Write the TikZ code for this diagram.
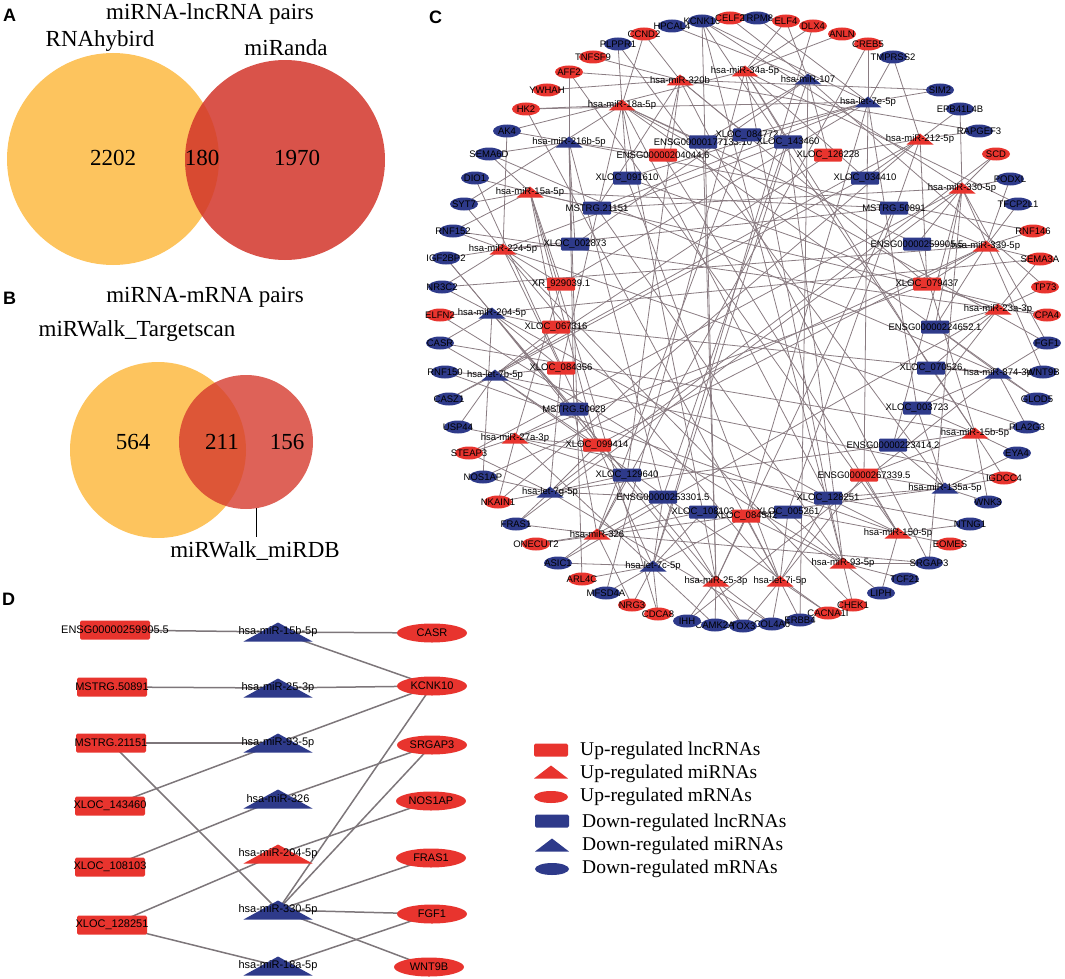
\documentclass[tikz,border=0pt]{standalone}
\usepackage{fontspec}
\setmainfont{Liberation Serif}
\setsansfont{Liberation Sans}
\usetikzlibrary{shapes.geometric}
\pgfdeclarelayer{bg}\pgfsetlayers{bg,main}
\definecolor{upred}{RGB}{232,52,46}
\definecolor{dnblue}{RGB}{46,58,138}
\definecolor{vyel}{RGB}{253,196,94}
\definecolor{vredA}{RGB}{210,53,42}
\definecolor{vredB}{RGB}{214,59,46}
\definecolor{cedgecol}{RGB}{138,124,130}
\definecolor{dedgecol}{RGB}{125,118,122}
\tikzset{
  lblc/.style={font=\fontsize{9.5}{10}\selectfont\sffamily, text=black, inner sep=0pt},
  lbld/.style={font=\fontsize{11}{12}\selectfont\sffamily, text=black, inner sep=0pt},
  crect/.style={fill=#1, minimum width=28pt, minimum height=13pt, inner sep=0pt, rounded corners=1pt},
  cell/.style={ellipse, fill=#1, minimum width=28pt, minimum height=13pt, inner sep=0pt},
  ctri/.style={minimum width=27pt, minimum height=11pt, inner sep=0pt,
    path picture={\fill[#1] (path picture bounding box.south west) -- (path picture bounding box.south east) -- (path picture bounding box.north) -- cycle;}},
  drect/.style={fill=#1, minimum width=70pt, minimum height=19pt, inner sep=0pt, rounded corners=1.5pt},
  dell/.style={ellipse, fill=#1, minimum width=70pt, minimum height=19pt, inner sep=0pt},
  dtri/.style={minimum width=69pt, minimum height=19pt, inner sep=0pt,
    path picture={\fill[#1] (path picture bounding box.south west) -- (path picture bounding box.south east) -- (path picture bounding box.north) -- cycle;}},
  cedge/.style={draw=cedgecol, line width=0.8pt},
  dedge/.style={draw=dedgecol, line width=1.5pt},
  venntxt/.style={font=\fontsize{23}{24}\selectfont, inner sep=0pt},
  legtxt/.style={font=\fontsize{19.5}{20}\selectfont, inner sep=0pt, anchor=west},
  panel/.style={font=\fontsize{18}{18}\selectfont\sffamily\bfseries, inner sep=0pt, anchor=west},
}
\newcommand\Cnd[5]{\node[#1=#2, label={[lblc]center:#5}] (#3) at (#4) {};}
\newcommand\Dnd[5]{\node[#1=#2, label={[lbld]center:#5}] (#3) at (#4) {};}
\begin{document}
\begin{tikzpicture}[x=1pt,y=-1pt]
\useasboundingbox (0,0) rectangle (1065,979);

% ---------------- Panel A ----------------
\node[panel] (pA) at (3,15) {A};
\fill[vyel] (113,159) circle[radius=106pt];
\fill[vredA, opacity=0.85] (285,160) circle[radius=100pt];
\node[venntxt] (tA) at (210,14) {miRNA-lncRNA pairs};
\node[venntxt] (tA1) at (100,41) {RNAhybird};
\node[venntxt] (tA2) at (286,48) {miRanda};
\node[venntxt] (nA1) at (113,158) {2202};
\node[venntxt] (nA2) at (202,158) {180};
\node[venntxt] (nA3) at (297,158) {1970};

% ---------------- Panel B ----------------
\node[panel] (pB) at (3,298) {B};
\fill[vyel] (158,450) circle[radius=88pt];
\fill[vredB, opacity=0.8] (246,442) circle[radius=67pt];
\node[venntxt] (tB) at (205,297) {miRNA-mRNA pairs};
\node[venntxt] (tB1) at (137,331) {miRWalk\_Targetscan};
\node[venntxt] (nB1) at (133,442) {564};
\node[venntxt] (nB2) at (222,442) {211};
\node[venntxt] (nB3) at (287,442) {156};
\coordinate (bl1) at (256,508);
\coordinate (bl2) at (256,537);
\draw[line width=0.8pt] (bl1) -- (bl2);
\node[venntxt] (tB2) at (255,551) {miRWalk\_miRDB};

% ---------------- Panel C ----------------
\node[panel] (pC) at (429,17) {C};
% outer ring (mRNAs)
\Cnd{cell}{dnblue}{r1}{702,21}{KCNK10}
\Cnd{cell}{upred}{r2}{730,18}{CELF2}
\Cnd{cell}{dnblue}{r3}{757,18}{TRPM8}
\Cnd{cell}{upred}{r4}{786,21}{ELF4}
\Cnd{cell}{upred}{r5}{813,26}{DLX4}
\Cnd{cell}{upred}{r6}{842,34}{ANLN}
\Cnd{cell}{upred}{r7}{868,44}{CREB5}
\Cnd{cell}{dnblue}{r8}{893,57}{TMPRSS2}
\Cnd{cell}{dnblue}{r9}{940,90}{SIM2}
\Cnd{cell}{dnblue}{r10}{960,109}{EPB41L4B}
\Cnd{cell}{dnblue}{r11}{979,131}{RAPGEF3}
\Cnd{cell}{upred}{r12}{996,154}{SCD}
\Cnd{cell}{dnblue}{r13}{1010,179}{PODXL}
\Cnd{cell}{dnblue}{r14}{1018,204}{TFCP2L1}
\Cnd{cell}{upred}{r15}{1033,231}{RNF146}
\Cnd{cell}{upred}{r16}{1040,259}{SEMA3A}
\Cnd{cell}{upred}{r17}{1045,287}{TP73}
\Cnd{cell}{upred}{r18}{1047,315}{CPA4}
\Cnd{cell}{dnblue}{r19}{1047,343}{FGF1}
\Cnd{cell}{dnblue}{r20}{1043,372}{WNT9B}
\Cnd{cell}{dnblue}{r21}{1037,399}{GLOD5}
\Cnd{cell}{dnblue}{r22}{1027,427}{PLA2G3}
\Cnd{cell}{dnblue}{r23}{1017,453}{EYA4}
\Cnd{cell}{upred}{r24}{1004,478}{IGDCC4}
\Cnd{cell}{dnblue}{r25}{988,502}{WNK3}
\Cnd{cell}{dnblue}{r26}{970,524}{NTNG1}
\Cnd{cell}{upred}{r27}{950,544}{EOMES}
\Cnd{cell}{dnblue}{r28}{929,563}{SRGAP3}
\Cnd{cell}{dnblue}{r29}{905,579}{TCF21}
\Cnd{cell}{dnblue}{r30}{881,593}{LIPH}
\Cnd{cell}{upred}{r31}{853,605}{CHEK1}
\Cnd{cell}{upred}{r32}{828,613}{CACNA1I}
\Cnd{cell}{dnblue}{r33}{800,620}{ERBB4}
\Cnd{cell}{dnblue}{r34}{772,624}{COL4A6}
\Cnd{cell}{dnblue}{r35}{743,626}{TOX3}
\Cnd{cell}{dnblue}{r36}{715,625}{CAMK2A}
\Cnd{cell}{dnblue}{r37}{687,621}{IHH}
\Cnd{cell}{upred}{r38}{658,614}{CDCA8}
\Cnd{cell}{upred}{r39}{632,605}{NRG3}
\Cnd{cell}{dnblue}{r40}{606,593}{MFSD4A}
\Cnd{cell}{upred}{r41}{582,579}{ARL4C}
\Cnd{cell}{dnblue}{r42}{558,563}{ASIC1}
\Cnd{cell}{upred}{r43}{536,544}{ONECUT2}
\Cnd{cell}{dnblue}{r44}{516,524}{FRAS1}
\Cnd{cell}{upred}{r45}{498,502}{NKAIN1}
\Cnd{cell}{dnblue}{r46}{483,477}{NOS1AP}
\Cnd{cell}{upred}{r47}{469,453}{STEAP3}
\Cnd{cell}{dnblue}{r48}{458,427}{USP44}
\Cnd{cell}{dnblue}{r49}{449,399}{CASZ1}
\Cnd{cell}{dnblue}{r50}{445,372}{RNF150}
\Cnd{cell}{dnblue}{r51}{440,343}{CASR}
\Cnd{cell}{upred}{r52}{440,315}{ELFN2}
\Cnd{cell}{dnblue}{r53}{442,287}{NR3C2}
\Cnd{cell}{dnblue}{r54}{446,258}{IGF2BP2}
\Cnd{cell}{dnblue}{r55}{453,231}{RNF152}
\Cnd{cell}{dnblue}{r56}{464,204}{SYT7}
\Cnd{cell}{dnblue}{r57}{475,178}{DIO1}
\Cnd{cell}{dnblue}{r58}{489,154}{SEMA6D}
\Cnd{cell}{dnblue}{r59}{507,131}{AK4}
\Cnd{cell}{upred}{r60}{526,109}{HK2}
\Cnd{cell}{upred}{r61}{547,90}{YWHAH}
\Cnd{cell}{upred}{r62}{569,72}{AFF2}
\Cnd{cell}{upred}{r63}{593,57}{TNFSF9}
\Cnd{cell}{dnblue}{r64}{618,44}{PLPPR1}
\Cnd{cell}{upred}{r65}{644,34}{CCND2}
\Cnd{cell}{dnblue}{r66}{672,26}{HPCAL4}
% lncRNAs
\Cnd{crect}{dnblue}{l1}{703,142}{ENSG00000177133.10}
\Cnd{crect}{dnblue}{l2}{747,135}{XLOC\_084772}
\Cnd{crect}{dnblue}{l3}{788,142}{XLOC\_143460}
\Cnd{crect}{upred}{l4}{663,155}{ENSG00000204044.6}
\Cnd{crect}{upred}{l5}{828,155}{XLOC\_126228}
\Cnd{crect}{dnblue}{l6}{627,178}{XLOC\_091610}
\Cnd{crect}{dnblue}{l7}{865,178}{XLOC\_034410}
\Cnd{crect}{dnblue}{l8}{597,208}{MSTRG.21151}
\Cnd{crect}{dnblue}{l9}{894,208}{MSTRG.50891}
\Cnd{crect}{dnblue}{l10}{575,244}{XLOC\_002873}
\Cnd{crect}{dnblue}{l11}{917,244}{ENSG00000259905.5}
\Cnd{crect}{upred}{l12}{561,284}{XR\_929039.1}
\Cnd{crect}{upred}{l13}{927,284}{XLOC\_079437}
\Cnd{crect}{upred}{l14}{556,327}{XLOC\_067316}
\Cnd{crect}{dnblue}{l15}{935,327}{ENSG00000224652.1}
\Cnd{crect}{upred}{l16}{561,368}{XLOC\_084356}
\Cnd{crect}{dnblue}{l17}{931,368}{XLOC\_070526}
\Cnd{crect}{dnblue}{l18}{574,409}{MSTRG.50028}
\Cnd{crect}{dnblue}{l19}{917,408}{XLOC\_003723}
\Cnd{crect}{upred}{l20}{597,445}{XLOC\_099414}
\Cnd{crect}{dnblue}{l21}{893,445}{ENSG00000223414.2}
\Cnd{crect}{dnblue}{l22}{627,475}{XLOC\_129640}
\Cnd{crect}{upred}{l23}{864,475}{ENSG00000267339.5}
\Cnd{crect}{dnblue}{l24}{663,497}{ENSG00000253301.5}
\Cnd{crect}{dnblue}{l25}{828,498}{XLOC\_128251}
\Cnd{crect}{dnblue}{l26}{703,512}{XLOC\_108103}
\Cnd{crect}{dnblue}{l27}{788,512}{XLOC\_005261}
\Cnd{crect}{upred}{l28}{746,516}{XLOC\_084542}
% miRNAs
\Cnd{ctri}{upred}{m1}{680,80}{hsa-miR-320b}
\Cnd{ctri}{upred}{m2}{745,71}{hsa-miR-34a-5p}
\Cnd{ctri}{dnblue}{m3}{808,79}{hsa-miR-107}
\Cnd{ctri}{dnblue}{m4}{868,102}{hsa-let-7e-5p}
\Cnd{ctri}{upred}{m5}{622,105}{hsa-miR-18a-5p}
\Cnd{ctri}{dnblue}{m6}{569,142}{hsa-miR-216b-5p}
\Cnd{ctri}{upred}{m7}{920,139}{hsa-miR-212-5p}
\Cnd{ctri}{upred}{m8}{530,192}{hsa-miR-15a-5p}
\Cnd{ctri}{upred}{m9}{962,188}{hsa-miR-330-5p}
\Cnd{ctri}{upred}{m10}{503,249}{hsa-miR-224-5p}
\Cnd{ctri}{upred}{m11}{986,246}{hsa-miR-339-5p}
\Cnd{ctri}{dnblue}{m12}{492,313}{hsa-miR-204-5p}
\Cnd{ctri}{upred}{m13}{998,309}{hsa-miR-23a-3p}
\Cnd{ctri}{dnblue}{m14}{495,375}{hsa-let-7b-5p}
\Cnd{ctri}{dnblue}{m15}{998,373}{hsa-miR-874-3p}
\Cnd{ctri}{upred}{m16}{515,438}{hsa-miR-27a-3p}
\Cnd{ctri}{upred}{m17}{975,433}{hsa-miR-15b-5p}
\Cnd{ctri}{dnblue}{m18}{550,492}{hsa-let-7g-5p}
\Cnd{ctri}{dnblue}{m19}{945,488}{hsa-miR-135a-5p}
\Cnd{ctri}{upred}{m20}{597,534}{hsa-miR-326}
\Cnd{ctri}{upred}{m21}{898,533}{hsa-miR-150-5p}
\Cnd{ctri}{dnblue}{m22}{653,566}{hsa-let-7c-5p}
\Cnd{ctri}{upred}{m23}{843,563}{hsa-miR-93-5p}
\Cnd{ctri}{upred}{m24}{716,581}{hsa-miR-25-3p}
\Cnd{ctri}{upred}{m25}{780,581}{hsa-let-7i-5p}
\begin{pgfonlayer}{bg}
\foreach \m/\ts in {
 m1/{r62,r61,r63,r65,r9,l2,l4,l13,l22,r28,l8,r11},
 m2/{r5,r6,r4,r59,l3,l7,l17,r40,l25,r14},
 m3/{r2,r4,r66,l1,l5,l24,r33,l10,r17},
 m4/{r7,r8,r9,r3,r1,l2,l6,l8,l12,l19,l23,l28,r60},
 m5/{r60,r65,r64,r56,l1,l6,l11,l16,l26,r19,r21,l25},
 m6/{r62,r59,r58,l4,l10,l18,r41,l24,r15},
 m7/{r10,r8,r11,l5,l7,l13,l27,r49,r45},
 m8/{r57,r58,r56,r55,l8,l12,l14,l20,r38,l9,r18},
 m9/{r12,r13,r10,r1,r28,r44,r19,r20,l8,l11,l15,l21,r47},
 m10/{r55,r54,r53,r59,l10,l12,l16,l9,r31,l3,r22},
 m11/{r14,r15,r16,r13,l9,l11,l13,l15,l20,r46,r53},
 m12/{r52,r53,r51,r54,l14,l16,l18,r46,l25,l22,r35,r16},
 m13/{r17,r18,r16,l13,l15,l17,l21,r42,l6,r55},
 m14/{r50,r49,r48,r51,l14,l16,l18,l20,r32,l7,l5,r24},
 m15/{r20,r21,r19,r22,l17,l19,l15,l14,r37,r58},
 m16/{r47,r48,r45,l18,l20,l22,l12,r36,l13,r26},
 m17/{r22,r23,r24,r51,r1,l11,l19,l21,l23,l17,r25},
 m18/{r46,r45,r44,r47,l20,l22,l24,l16,r34,l21,r12},
 m19/{r24,r25,r23,l23,l25,l21,l19,r43,r64},
 m20/{r43,r44,r42,r28,l26,l22,l24,l18,r39,l2,r7},
 m21/{r27,r26,r30,l23,l25,l27,r50,l4,r62},
 m22/{r42,r41,r40,r39,r38,l26,l24,l28,r57,l3,r5},
 m23/{r28,r29,r31,r30,r1,l3,l8,l27,l25,l28,r52},
 m24/{r36,r35,r34,r37,r1,l9,l28,l26,l24,r54,l1},
 m25/{r32,r33,r34,r35,l27,l28,l25,l23,r60,l6,r56}}
 {\foreach \t in \ts {\draw[cedge] (\m.center) -- (\t.center);}}
\end{pgfonlayer}

% ---------------- Panel D ----------------
\node[panel] (pD) at (2,599) {D};
\Dnd{drect}{upred}{da1}{115,630}{ENSG00000259905.5}
\Dnd{drect}{upred}{da2}{112,687}{MSTRG.50891}
\Dnd{drect}{upred}{da3}{111,743}{MSTRG.21151}
\Dnd{drect}{upred}{da4}{110,806}{XLOC\_143460}
\Dnd{drect}{upred}{da5}{110,867}{XLOC\_108103}
\Dnd{drect}{upred}{da6}{112,925}{XLOC\_128251}
\Dnd{dtri}{dnblue}{db1}{278,632}{hsa-miR-15b-5p}
\Dnd{dtri}{dnblue}{db2}{278,688}{hsa-miR-25-3p}
\Dnd{dtri}{dnblue}{db3}{278,743}{hsa-miR-93-5p}
\Dnd{dtri}{dnblue}{db4}{278,799}{hsa-miR-326}
\Dnd{dtri}{upred}{db5}{278,854}{hsa-miR-204-5p}
\Dnd{dtri}{dnblue}{db6}{278,910}{hsa-miR-330-5p}
\Dnd{dtri}{dnblue}{db7}{278,966}{hsa-miR-18a-5p}
\Dnd{dell}{upred}{dc1}{432,633}{CASR}
\Dnd{dell}{upred}{dc2}{432,686}{KCNK10}
\Dnd{dell}{upred}{dc3}{432,745}{SRGAP3}
\Dnd{dell}{upred}{dc4}{431,801}{NOS1AP}
\Dnd{dell}{upred}{dc5}{431,858}{FRAS1}
\Dnd{dell}{upred}{dc6}{432,914}{FGF1}
\Dnd{dell}{upred}{dc7}{429,967}{WNT9B}
\begin{pgfonlayer}{bg}
\foreach \a/\b in {da1/db1, db1/dc1, db1/dc2, da2/db2, db2/dc2, da3/db3, db3/dc2,
  da3/db6, da4/db3, da5/db4, db4/dc3, db5/dc4, da6/db5, da6/db7, db7/dc6,
  db6/dc2, db6/dc3, db6/dc5, db6/dc6, db6/dc7}
  {\draw[dedge] (\a.center) -- (\b.center);}
\end{pgfonlayer}

% ---------------- Legend ----------------
\node[drect=upred, minimum width=34pt, minimum height=13pt] (lg1) at (551,750) {};
\node[dtri=upred, minimum width=34pt, minimum height=13pt] (lg2) at (551,772) {};
\node[dell=upred, minimum width=34pt, minimum height=12pt] (lg3) at (551,797) {};
\node[drect=dnblue, minimum width=34pt, minimum height=13pt] (lg4) at (552,821) {};
\node[dtri=dnblue, minimum width=34pt, minimum height=13pt] (lg5) at (552,845) {};
\node[dell=dnblue, minimum width=34pt, minimum height=12pt] (lg6) at (552,869) {};
\node[legtxt] (lt1) at (580,751) {Up-regulated lncRNAs};
\node[legtxt] (lt2) at (580,774) {Up-regulated miRNAs};
\node[legtxt] (lt3) at (580,797) {Up-regulated mRNAs};
\node[legtxt] (lt4) at (582,823) {Down-regulated lncRNAs};
\node[legtxt] (lt5) at (582,846) {Down-regulated miRNAs};
\node[legtxt] (lt6) at (582,869) {Down-regulated mRNAs};
\end{tikzpicture}
\end{document}
